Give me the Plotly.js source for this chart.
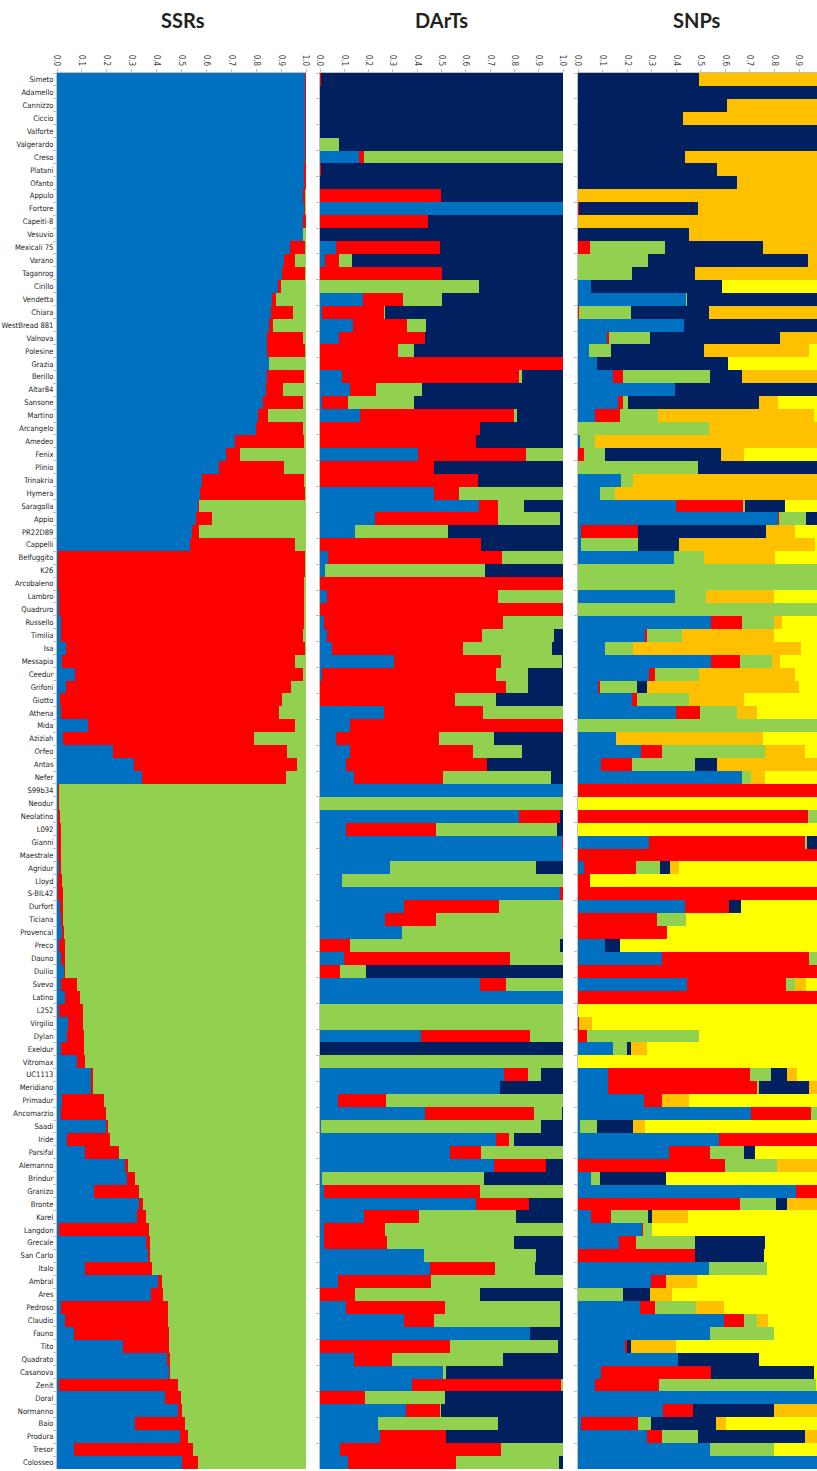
<!DOCTYPE html>
<html><head><meta charset="utf-8">
<script src="https://cdn.plot.ly/plotly-3.0.1.min.js"></script>
<style>html,body{margin:0;padding:0;background:#fff}#chart{width:817px;height:1471px}</style>
</head><body><div id="chart"></div>
<script>
const varieties = ["Simeto","Adamello","Cannizzo","Ciccio","Valforte","Valgerardo","Creso","Platani","Ofanto","Appulo","Fortore","Capeiti-8","Vesuvio","Mexicali 75","Varano","Taganrog","Cirillo","Vendetta","Chiara","WestBread 881","Valnova","Polesine","Grazia","Berillo","Altar84","Sansone","Martino","Arcangelo","Amedeo","Fenix","Plinio","Trinakria","Hymera","Saragolla","Appio","PR22D89","Cappelli","Belfuggito","K26","Arcobaleno","Lambro","Quadruro","Russello","Timilia","Isa","Messapia","Ceedur","Grifoni","Giotto","Athena","Mida","Aziziah","Orfeo","Antas","Nefer","S99b34","Neodur","Neolatino","L092","Gianni","Maestrale","Agridur","Lloyd","S-BIL42","Durfort","Ticiana","Provencal","Preco","Dauno","Duilio","Svevo","Latino","L252","Virgilio","Dylan","Exeldur","Vitromax","UC1113","Meridiano","Primadur","Ancomarzio","Saadi","Iride","Parsifal","Alemanno","Brindur","Granizo","Bronte","Karel","Langdon","Grecale","San Carlo","Italo","Ambral","Ares","Pedroso","Claudio","Fauno","Tito","Quadrato","Casanova","Zenit","Doral","Normanno","Baio","Produra","Tresor","Colosseo"];

const tickValues = [0,0.1,0.2,0.3,0.4,0.5,0.6,0.7,0.8,0.9,1.0];
const tickLabels = ["0.0","0.1","0.2","0.3","0.4","0.5","0.6","0.7","0.8","0.9","1.0"];
const panelTitles = ["SSRs","DArTs","SNPs"];

// SSRs (K=3)
const ssrBlue = [0.995,0.995,0.995,0.995,0.995,0.995,0.994,0.992,0.99,0.989,0.99,0.987,0.989,0.936,0.911,0.902,0.889,0.862,0.858,0.85,0.842,0.842,0.85,0.842,0.838,0.826,0.809,0.799,0.715,0.677,0.652,0.583,0.573,0.568,0.557,0.541,0.533,0.004,0.005,0.006,0.008,0.01,0.016,0.017,0.036,0.02,0.071,0.036,0.012,0.015,0.125,0.026,0.224,0.31,0.342,0.003,0.003,0.003,0.003,0.004,0.005,0.008,0.006,0.004,0.012,0.015,0.02,0.009,0.017,0.028,0.017,0.034,0.007,0.044,0.039,0.017,0.082,0.136,0.138,0.02,0.017,0.195,0.042,0.114,0.272,0.283,0.149,0.329,0.321,0.009,0.358,0.366,0.111,0.404,0.377,0.017,0.031,0.068,0.264,0.442,0.45,0.007,0.434,0.485,0.313,0.493,0.068,0.501];
const ssrRed = [0.005,0.005,0.003,0.005,0.005,0.004,0.006,0.008,0.01,0.008,0.004,0.013,0,0.061,0.043,0.095,0.012,0.017,0.091,0.016,0.147,0.155,0.002,0.148,0.071,0.161,0.04,0.188,0.277,0.058,0.259,0.409,0.421,0.004,0.064,0.03,0.421,0.993,0.99,0.985,0.984,0.982,0.974,0.972,0.961,0.934,0.918,0.902,0.891,0.878,0.832,0.765,0.698,0.652,0.577,0.007,0.007,0.009,0.012,0.013,0.012,0.01,0.014,0.019,0.011,0.008,0.008,0.023,0.017,0.006,0.062,0.059,0.097,0.062,0.07,0.091,0.032,0.008,0.008,0.169,0.18,0.01,0.172,0.134,0.014,0.032,0.18,0.016,0.037,0.36,0.016,0.006,0.271,0.019,0.048,0.43,0.416,0.382,0.186,0.013,0.005,0.478,0.062,0.016,0.201,0.035,0.478,0.064];
const ssrGreen = [0,0,0.002,0,0,0.001,0,0,0,0.003,0.006,0,0.011,0.003,0.046,0.003,0.099,0.121,0.051,0.134,0.011,0.003,0.148,0.01,0.091,0.013,0.151,0.013,0.008,0.265,0.089,0.008,0.006,0.428,0.379,0.429,0.046,0.003,0.005,0.009,0.008,0.008,0.01,0.011,0.003,0.046,0.011,0.062,0.097,0.107,0.043,0.209,0.078,0.038,0.081,0.99,0.99,0.988,0.985,0.983,0.983,0.982,0.98,0.977,0.977,0.977,0.972,0.968,0.966,0.966,0.921,0.907,0.896,0.894,0.891,0.892,0.886,0.856,0.854,0.811,0.803,0.795,0.786,0.752,0.714,0.685,0.671,0.655,0.642,0.631,0.626,0.628,0.618,0.577,0.575,0.553,0.553,0.55,0.55,0.545,0.545,0.515,0.504,0.499,0.486,0.472,0.454,0.435];

// DArTs (K=4)
const dartBlue = [0,0,0,0,0,0,0.16,0,0,0,1,0,0,0.064,0.02,0,0,0.177,0.01,0.136,0.078,0,0,0.089,0.125,0.01,0.163,0,0,0.405,0,0,0.47,0.654,0.226,0.144,0,0.032,0.02,0,0.029,0,0.018,0.029,0.048,0.303,0.01,0,0,0.262,0.122,0.067,0.125,0.108,0.139,1,0,0.819,0.108,0.997,1,0.289,0.092,0.989,0.344,0.267,0.339,0,0.1,0,0.66,1,0,0,0.416,0,0,0.756,0.739,0.073,0.432,0.005,0.726,0.534,0.717,0.01,0.015,0.643,0.18,0.015,0.015,0.429,0.454,0.075,0,0.108,0.347,0.863,0,0.141,0.506,0.38,0,0.353,0.237,0.246,0.084,0.114];
const dartRed = [0.003,0,0,0,0,0,0.019,0.005,0,0.498,0,0.443,0,0.428,0.058,0.5,0,0.165,0.252,0.22,0.354,0.32,1,0.73,0.107,0.107,0.637,0.66,0.64,0.444,0.468,0.649,0.104,0.077,0.508,0,0.663,0.716,0,1,0.702,1,0.735,0.637,0.541,0.442,0.716,0.767,0.556,0.409,0.878,0.423,0.505,0.579,0.367,0,0,0.17,0.37,0.003,0,0,0,0.011,0.392,0.211,0,0.125,0.683,0.084,0.104,0,0,0,0.45,0,0,0.102,0,0.2,0.447,0,0.052,0.129,0.211,0,0.642,0.219,0.228,0.253,0.261,0,0.266,0.381,0.144,0.407,0.121,0,0.534,0.156,0,0.612,0.185,0.14,0,0.274,0.661,0.444];
const dartGreen = [0,0,0,0,0,0.078,0.821,0,0,0,0,0,0,0,0.052,0,0.654,0.162,0.005,0.082,0,0.066,0,0.014,0.187,0.27,0.011,0,0,0.151,0,0,0.426,0.11,0.253,0.384,0,0.252,0.658,0,0.269,0,0.247,0.296,0.365,0.25,0.129,0.088,0.17,0.329,0,0.228,0.203,0,0.445,0,1,0,0.497,0,0,0.601,0.908,0,0.264,0.522,0.661,0.864,0.217,0.107,0.236,0,1,1,0.134,0,1,0.052,0,0.727,0.115,0.905,0.019,0.337,0,0.666,0.343,0,0.398,0.732,0.521,0.461,0.165,0.544,0.516,0.471,0.518,0,0.447,0.458,0.014,0.008,0.329,0.005,0.494,0,0.255,0.425];
const dartNavy = [0.997,1,1,1,1,0.922,0,0.995,1,0.502,0,0.557,1,0.508,0.87,0.5,0.346,0.496,0.733,0.562,0.568,0.614,0,0.167,0.581,0.613,0.189,0.34,0.36,0,0.532,0.351,0,0.159,0.013,0.472,0.337,0,0.322,0,0,0,0,0.038,0.046,0.005,0.145,0.145,0.274,0,0,0.282,0.167,0.313,0.049,0,0,0.011,0.025,0,0,0.11,0,0,0,0,0,0.011,0,0.809,0,0,0,0,0,1,0,0.09,0.261,0,0.006,0.09,0.203,0,0.072,0.324,0,0.138,0.194,0,0.203,0.11,0.115,0,0.34,0.014,0.014,0.137,0.019,0.245,0.48,0,0.486,0.502,0.269,0.48,0,0.017];

// SNPs (K=6)
const snpBlue = [0,0,0,0,0,0,0,0,0,0,0,0,0,0,0,0,0.054,0.44,0,0.431,0.119,0.046,0.076,0.141,0.393,0.163,0.071,0,0.01,0,0,0.176,0.09,0.399,0.814,0.012,0.012,0.391,0,0,0.393,0,0.543,0.271,0.109,0.54,0.29,0.081,0.22,0.399,0,0.155,0.255,0.095,0.668,0,0,0,0,0.29,0,0.024,0,0,0.434,0,0,0.111,0.342,0,0.442,0,0,0,0,0.141,0,0.122,0.122,0.269,0.706,0.01,0.575,0.372,0,0.054,0.887,0,0.054,0.261,0.168,0,0.532,0.299,0,0.252,0.594,0.537,0.193,0.407,0.095,0.071,1,0.345,0.012,0.28,0.537,1];
const snpRed = [0,0,0,0,0,0,0,0,0,0,0.005,0,0,0.049,0,0,0,0,0.005,0,0.008,0,0,0.041,0,0.022,0.1,0,0,0.024,0,0,0,0.271,0.004,0.233,0,0,0,0,0,0,0.125,0.008,0,0.119,0.022,0.008,0.022,0.098,0,0,0.087,0.125,0,1,0,0.936,0,0.633,1,0.212,0.049,1,0.179,0.32,0.364,0,0.597,1,0.405,1,0,0.005,0.038,0,0,0.578,0.605,0.073,0.242,0,0.425,0.166,0.597,0,0.113,0.659,0.079,0.003,0.068,0.478,0,0.06,0,0.062,0.081,0,0.005,0,0.448,0.258,0,0.125,0.233,0.06,0,0];
const snpGreen = [0,0,0,0,0,0,0,0,0,0,0,0,0,0.304,0.285,0.22,0,0.003,0.212,0,0.168,0.09,0,0.355,0,0.019,0.155,0.532,0.06,0.087,0.488,0.046,0.062,0.011,0.11,0,0.233,0.122,1,1,0.128,1,0.13,0.144,0.114,0.13,0.179,0.152,0.209,0.149,1,0,0.42,0.255,0.038,0,0,0.064,0,0.011,0,0.098,0,0,0,0.119,0,0,0.061,0,0.035,0,0,0,0.453,0.06,0,0.084,0.008,0,0.052,0.068,0,0.138,0.212,0.036,0,0.147,0.152,0.038,0.242,0,0.239,0,0.182,0.168,0.054,0.261,0,0,0,0.64,0,0,0.052,0.149,0.263,0];
const snpNavy = [0.494,1,0.605,0.429,1,1,0.434,0.564,0.649,0,0.484,0,0.45,0.402,0.651,0.255,0.532,0.557,0.315,0.569,0.529,0.376,0.535,0.13,0.607,0.531,0,0,0,0.472,0.512,0,0,0.16,0.072,0.52,0.166,0,0,0,0,0,0,0,0,0,0,0.041,0,0,0,0,0,0.09,0,0,0,0,0,0.066,0,0.041,0,0,0.052,0,0,0.062,0,0,0,0,0,0,0,0.016,0,0.065,0.206,0,0,0.144,0,0.043,0,0.269,0,0.046,0.016,0,0.285,0.279,0,0,0.111,0,0,0,0.019,0.328,0.418,0,0,0.328,0.263,0.434,0,0];
const snpOrange = [0.506,0,0.395,0.571,0,0,0.566,0.436,0.351,1,0.511,1,0.55,0.245,0.064,0.525,0,0,0.468,0,0.176,0.429,0,0.333,0,0.081,0.635,0.468,0.93,0.092,0,0.778,0.848,0,0,0.12,0.553,0.288,0,0,0.277,0,0.033,0.377,0.684,0.033,0.394,0.616,0.225,0.081,0,0.599,0.163,0.435,0.054,0,0,0,0,0,0,0.038,0,0,0,0,0,0,0,0,0.046,0,0,0.05,0,0.062,0,0.041,0.059,0.111,0,0.049,0,0,0.191,0,0,0.148,0.147,0,0,0,0,0.125,0.09,0.114,0.046,0,0.182,0,0,0,0,0.202,0.043,0.077,0,0];
const snpYellow = [0,0,0,0,0,0,0,0,0,0,0,0,0,0,0,0,0.414,0,0,0,0,0.059,0.389,0,0,0.184,0.039,0,0,0.325,0,0,0,0.159,0,0.115,0.036,0.199,0,0,0.202,0,0.169,0.2,0.093,0.178,0.115,0.102,0.324,0.273,0,0.246,0.075,0,0.24,0,1,0,1,0,0,0.587,0.951,0,0.335,0.561,0.636,0.827,0,0,0.072,0,1,0.945,0.509,0.721,1,0.11,0,0.547,0,0.729,0,0.281,0,0.641,0,0,0.552,0.698,0.237,0.243,0.229,0.516,0.617,0.404,0.225,0.202,0.601,0.265,0.039,0.031,0,0,0.397,0,0.2,0];

const C = {blue:"#0070C0", red:"#FF0000", green:"#92D050", navy:"#002060", orange:"#FFC000", yellow:"#FFFF00"};

const panels = [
  {xa:"x",  ya:"y",  series:[[ssrBlue,C.blue],[ssrRed,C.red],[ssrGreen,C.green]]},
  {xa:"x2", ya:"y2", series:[[dartBlue,C.blue],[dartRed,C.red],[dartGreen,C.green],[dartNavy,C.navy]]},
  {xa:"x3", ya:"y3", series:[[snpBlue,C.blue],[snpRed,C.red],[snpGreen,C.green],[snpNavy,C.navy],[snpOrange,C.orange],[snpYellow,C.yellow]]}
];

const traces = [];
panels.forEach(p => {
  p.series.forEach(([vals,col]) => {
    traces.push({type:"bar", orientation:"h", y:varieties, x:vals, xaxis:p.xa, yaxis:p.ya,
      marker:{color:col, line:{width:0}}, showlegend:false, hoverinfo:"skip"});
  });
});

const labelFont = "Liberation Sans Narrow, DejaVu Sans Condensed, sans-serif";
const xBase = {side:"top", tickmode:"array", tickvals:tickValues, ticktext:tickLabels, tickangle:90,
  tickfont:{family:labelFont, size:8, color:"#404040"},
  ticks:"outside", ticklen:3, tickcolor:"#bfbfbf", showline:true, linecolor:"#bfbfbf", linewidth:1,
  showgrid:false, zeroline:false, fixedrange:true};
const yBase = {type:"category", autorange:"reversed", domain:[0,1], ticks:"outside", tickson:"boundaries",
  ticklen:3, tickcolor:"#bfbfbf", showline:true, linecolor:"#bfbfbf", linewidth:1, showgrid:false,
  zeroline:false, fixedrange:true, automargin:false};

const W = 817, H = 1471, mL = 57, mR = 0, mT = 73, mB = 2;
const pw = W - mL - mR;
const px = v => (v - mL) / pw;

const layout = {
  width:W, height:H, margin:{l:mL, r:mR, t:mT, b:mB, pad:0},
  barmode:"stack", bargap:0, showlegend:false,
  paper_bgcolor:"#fff", plot_bgcolor:"#fff",
  xaxis:Object.assign({}, xBase, {domain:[0, px(306)], range:[0,1], anchor:"y"}),
  xaxis2:Object.assign({}, xBase, {domain:[px(320), px(563)], range:[0,1], anchor:"y2"}),
  xaxis3:Object.assign({}, xBase, {domain:[px(578), 1], range:[0,(817-578)/245.6], anchor:"y3"}),
  yaxis:Object.assign({}, yBase, {anchor:"x", showticklabels:true, ticklabelstandoff:1,
    tickfont:{family:labelFont, size:7.6, color:"#222"}}),
  yaxis2:Object.assign({}, yBase, {anchor:"x2", showticklabels:false}),
  yaxis3:Object.assign({}, yBase, {anchor:"x3", showticklabels:false}),
  annotations:[[183,panelTitles[0]],[441,panelTitles[1]],[697,panelTitles[2]]].map(([cx,t]) => ({
    xref:"paper", yref:"paper", x:px(cx), y:(H - mB - 20)/(H - mT - mB), xanchor:"center", yanchor:"middle",
    text:"<b>"+t+"</b>", showarrow:false, font:{family:"Lato, Open Sans, sans-serif", size:20, color:"#222"}
  }))
};

Plotly.newPlot("chart", traces, layout, {staticPlot:true, displayModeBar:false});
</script></body></html>
